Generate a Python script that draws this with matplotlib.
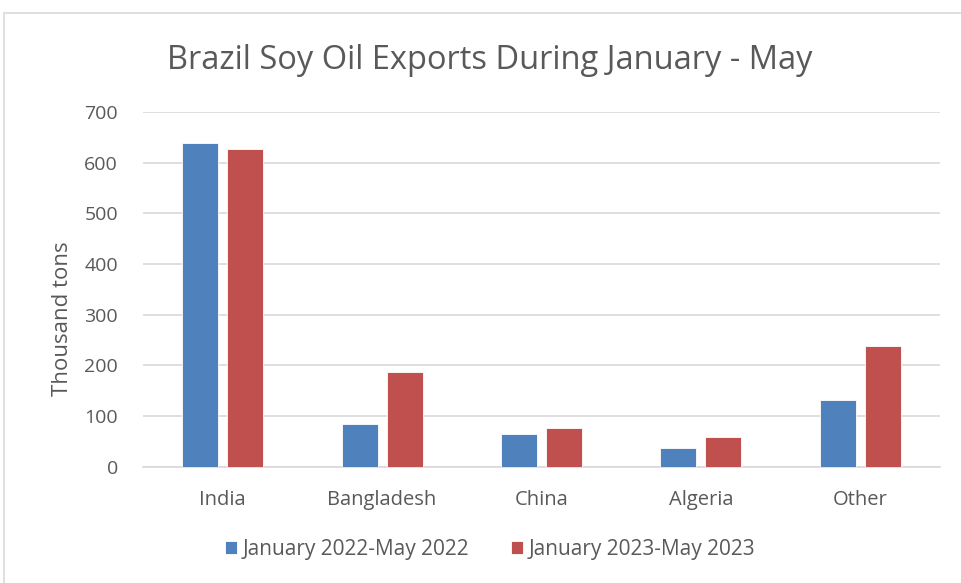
import matplotlib.pyplot as plt
import matplotlib.patches as patches
import numpy as np

# data
countries = ["India", "Bangladesh", "China", "Algeria", "Other"]
exports_2022 = [639, 83, 65, 36, 131]
exports_2023 = [626, 187, 77, 58, 238]
series_names = ["January 2022-May 2022", "January 2023-May 2023"]

BLUE = "#4F81BD"
RED = "#C0504D"
TEXT = "#595959"
GRID = "#D9D9D9"
FONT = ["Open Sans", "DejaVu Sans"]

plt.rcParams["font.family"] = FONT

fig = plt.figure(figsize=(9.61, 5.83), dpi=100)
ax = fig.add_axes([0.1488, 0.1998, 0.8294, 0.6082])

# outer chart frame
fig.patches.append(patches.Rectangle((4 / 961, -0.01), 1.0, 1 - 13 / 583 + 0.01,
                                     transform=fig.transFigure, fill=False,
                                     ec=GRID, lw=1.2))

x = np.arange(len(countries))
w = 0.226
off = 0.141
ax.bar(x - off, exports_2022, w, color=BLUE, ec="white", lw=0.6,
       label=series_names[0], zorder=3)
ax.bar(x + off, exports_2023, w, color=RED, ec="white", lw=0.6,
       label=series_names[1], zorder=3)

ax.set_xlim(-0.5, len(countries) - 0.5)
ax.set_ylim(0, 700)
ax.set_yticks(range(0, 701, 100))
ax.set_xticks(x)
ax.set_xticklabels(countries)
ax.yaxis.grid(True, color=GRID, lw=1.2, zorder=0)
ax.set_axisbelow(True)
for s in ["top", "right", "left"]:
    ax.spines[s].set_visible(False)
ax.spines["bottom"].set_color(GRID)
ax.spines["bottom"].set_linewidth(1.2)
ax.tick_params(axis="both", length=0, colors=TEXT)
ax.tick_params(axis="x", pad=17, labelsize=14.5)
ax.tick_params(axis="y", pad=18, labelsize=14)

ax.set_ylabel("Thousand tons", fontsize=16, color=TEXT)
ax.yaxis.set_label_coords(-0.088, 0.416)
fig.text(0.51, 0.897, "Brazil Soy Oil Exports During January - May",
         ha="center", va="center", fontsize=23.5, color=TEXT)

fig.legend(loc="center", bbox_to_anchor=(0.51, 0.058), ncol=2, frameon=False,
           fontsize=15, labelcolor=TEXT, handlelength=0.6, handleheight=0.6,
           handletextpad=0.25, columnspacing=2.0)

fig.savefig("out.png", dpi=100)
